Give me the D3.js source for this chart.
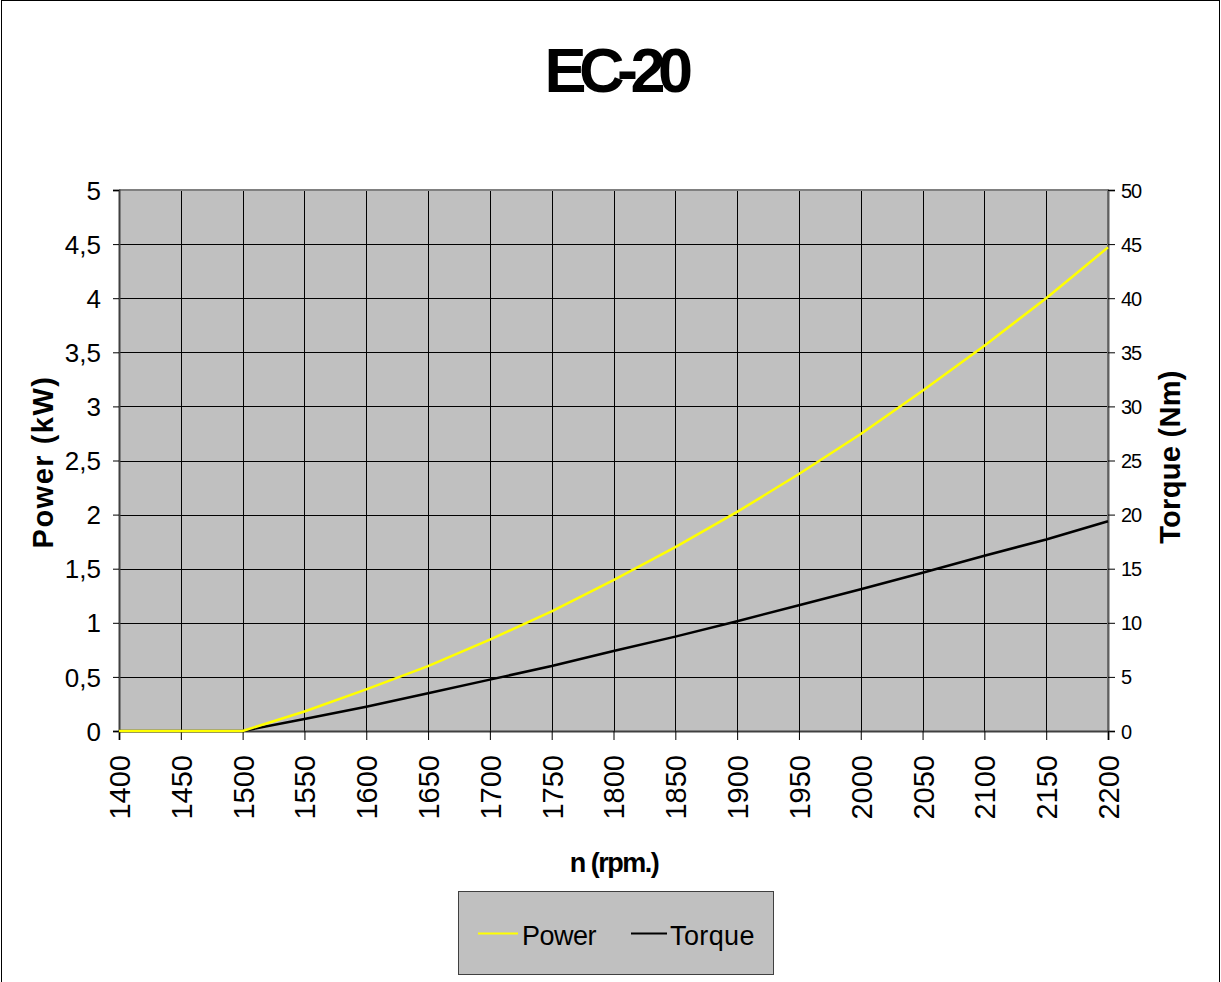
<!DOCTYPE html>
<html>
<head>
<meta charset="utf-8">
<script src="https://cdn.jsdelivr.net/npm/d3@7"></script>
<style>
  html, body { margin: 0; padding: 0; background: #fff; }
  svg { display: block; font-family: "Liberation Sans", Arial, sans-serif; }
</style>
</head>
<body>
<svg id="chart" width="1221" height="982"></svg>
<script>
// Engine speed (rpm) and the measured power / torque curves
const rpm    = [1400, 1450, 1500, 1550, 1600, 1650, 1700, 1750, 1800, 1850, 1900, 1950, 2000, 2050, 2100, 2150, 2200];
const power  = [0, 0, 0, 0.18, 0.385, 0.60, 0.845, 1.105, 1.395, 1.70, 2.025, 2.375, 2.745, 3.145, 3.56, 4.0, 4.47];
const torque = [0, 0, 0, 1.1, 2.25, 3.48, 4.75, 6.0, 7.39, 8.72, 10.15, 11.62, 13.1, 14.63, 16.2, 17.7, 19.38];

const xTicks      = d3.range(1400, 2201, 50);
const powerTicks  = d3.range(0, 5.01, 0.5);
const torqueTicks = d3.range(0, 50.1, 5);

const title = "EC-20";
const xTitle = "n (rpm.)";
const leftTitle = "Power (kW)";
const rightTitle = "Torque (Nm)";
const seriesNames = ["Power", "Torque"];
const seriesColors = ["#ffff00", "#000000"];

const svg = d3.select("#chart");
const W = 1221, H = 982;
const plot = { left: 119, right: 1108, top: 190, bottom: 731 };

const locale = d3.formatLocale({ decimal: ",", thousands: ".", grouping: [3], currency: ["", ""] });
const fmt = v => locale.format("~g")(v);

const x  = d3.scaleLinear().domain([1400, 2200]).range([plot.left, plot.right]);
const yL = d3.scaleLinear().domain([0, 5]).range([plot.bottom, plot.top]);
const yR = d3.scaleLinear().domain([0, 50]).range([plot.bottom, plot.top]);

// outer frame
svg.append("rect").attr("x", 1.5).attr("y", 0.5).attr("width", W - 3).attr("height", H + 10)
  .attr("fill", "#fff").attr("stroke", "#000").attr("stroke-width", 1);

// plot background
svg.append("rect").attr("x", plot.left).attr("y", plot.top)
  .attr("width", plot.right - plot.left).attr("height", plot.bottom - plot.top)
  .attr("fill", "#c0c0c0");

// grid
const grid = svg.append("g").attr("stroke", "#000").attr("stroke-width", 1).attr("shape-rendering", "crispEdges");
grid.selectAll("line.h").data(powerTicks.slice(1, -1)).join("line")
  .attr("x1", plot.left).attr("x2", plot.right)
  .attr("y1", d => Math.round(yL(d)) + 0.5).attr("y2", d => Math.round(yL(d)) + 0.5);
grid.selectAll("line.v").data(xTicks.slice(1, -1)).join("line")
  .attr("y1", plot.top).attr("y2", plot.bottom)
  .attr("x1", d => Math.round(x(d)) + 0.5).attr("x2", d => Math.round(x(d)) + 0.5);

// plot border (top / right)
svg.append("path")
  .attr("d", `M${plot.left},${plot.top}H${plot.right}V${plot.bottom}`)
  .attr("fill", "none").attr("stroke", "#808080").attr("stroke-width", 2);

// left axis
const axL = svg.append("g").attr("transform", `translate(${plot.left},0)`)
  .call(d3.axisLeft(yL).tickValues(powerTicks).tickFormat(fmt).tickSize(6).tickPadding(12));
axL.select(".domain").attr("stroke", "#404040").attr("stroke-width", 2);
axL.selectAll(".tick line").attr("stroke", "#000");
axL.selectAll(".tick text").attr("font-size", 26).attr("fill", "#000")
  .attr("font-family", "Liberation Sans, Arial, sans-serif").attr("dy", "0.35em");

// right axis
const axR = svg.append("g").attr("transform", `translate(${plot.right},0)`)
  .call(d3.axisRight(yR).tickValues(torqueTicks).tickFormat(fmt).tickSize(7).tickPadding(6));
axR.select(".domain").attr("stroke", "#606060").attr("stroke-width", 2);
axR.selectAll(".tick line").attr("stroke", "#000");
axR.selectAll(".tick text").attr("font-size", 20).attr("fill", "#000").attr("letter-spacing", -1)
  .attr("font-family", "Liberation Sans, Arial, sans-serif").attr("dy", "0.35em");

// bottom axis with rotated labels
const axB = svg.append("g").attr("transform", `translate(0,${plot.bottom})`)
  .call(d3.axisBottom(x).tickValues(xTicks).tickFormat(d3.format("d")).tickSize(9).tickPadding(0));
axB.select(".domain").attr("stroke", "#404040").attr("stroke-width", 2);
axB.selectAll(".tick line").attr("stroke", "#000");
axB.selectAll(".tick text")
  .attr("font-size", 29).attr("fill", "#000").attr("font-family", "Liberation Sans, Arial, sans-serif")
  .attr("text-anchor", "end").attr("y", 0).attr("dy", "0.36em")
  .attr("transform", "translate(0,24) rotate(-90)");

// series lines
const series = [
  { name: seriesNames[1], values: torque, scale: yR, color: seriesColors[1] },
  { name: seriesNames[0], values: power,  scale: yL, color: seriesColors[0] }
];
series.forEach(s => {
  const line = d3.line().x((d, i) => x(rpm[i])).y(d => s.scale(d));
  svg.append("path").datum(s.values).attr("d", line)
    .attr("fill", "none").attr("stroke", s.color).attr("stroke-width", 2.5)
    .attr("stroke-linejoin", "round");
});

// titles
svg.append("text").attr("x", 615).attr("y", 92).attr("text-anchor", "middle")
  .attr("font-size", 63).attr("font-weight", "bold").attr("letter-spacing", -7.5)
  .text(title);

svg.append("text").attr("x", 614).attr("y", 872).attr("text-anchor", "middle")
  .attr("font-size", 27).attr("font-weight", "bold").attr("letter-spacing", -1.5)
  .text(xTitle);

svg.append("text").attr("transform", `translate(53,462) rotate(-90)`).attr("text-anchor", "middle")
  .attr("font-size", 29).attr("font-weight", "bold").attr("letter-spacing", 1.5)
  .text(leftTitle);

svg.append("text").attr("transform", `translate(1180,457) rotate(-90)`).attr("text-anchor", "middle")
  .attr("font-size", 29).attr("font-weight", "bold").attr("letter-spacing", 0.3)
  .text(rightTitle);

// legend
const lg = svg.append("g");
lg.append("rect").attr("x", 458.5).attr("y", 891.5).attr("width", 315).attr("height", 83)
  .attr("fill", "#c0c0c0").attr("stroke", "#404040").attr("stroke-width", 1);
const legendItems = [
  { name: seriesNames[0], color: seriesColors[0], x1: 478, x2: 518, tx: 522, ls: -0.5 },
  { name: seriesNames[1], color: seriesColors[1], x1: 631, x2: 667, tx: 670, ls: 0.4 }
];
legendItems.forEach(it => {
  lg.append("line").attr("x1", it.x1).attr("x2", it.x2).attr("y1", 933.5).attr("y2", 933.5)
    .attr("stroke", it.color).attr("stroke-width", 2);
  lg.append("text").attr("x", it.tx).attr("y", 945).attr("font-size", 27).attr("letter-spacing", it.ls)
    .text(it.name);
});
</script>
</body>
</html>
